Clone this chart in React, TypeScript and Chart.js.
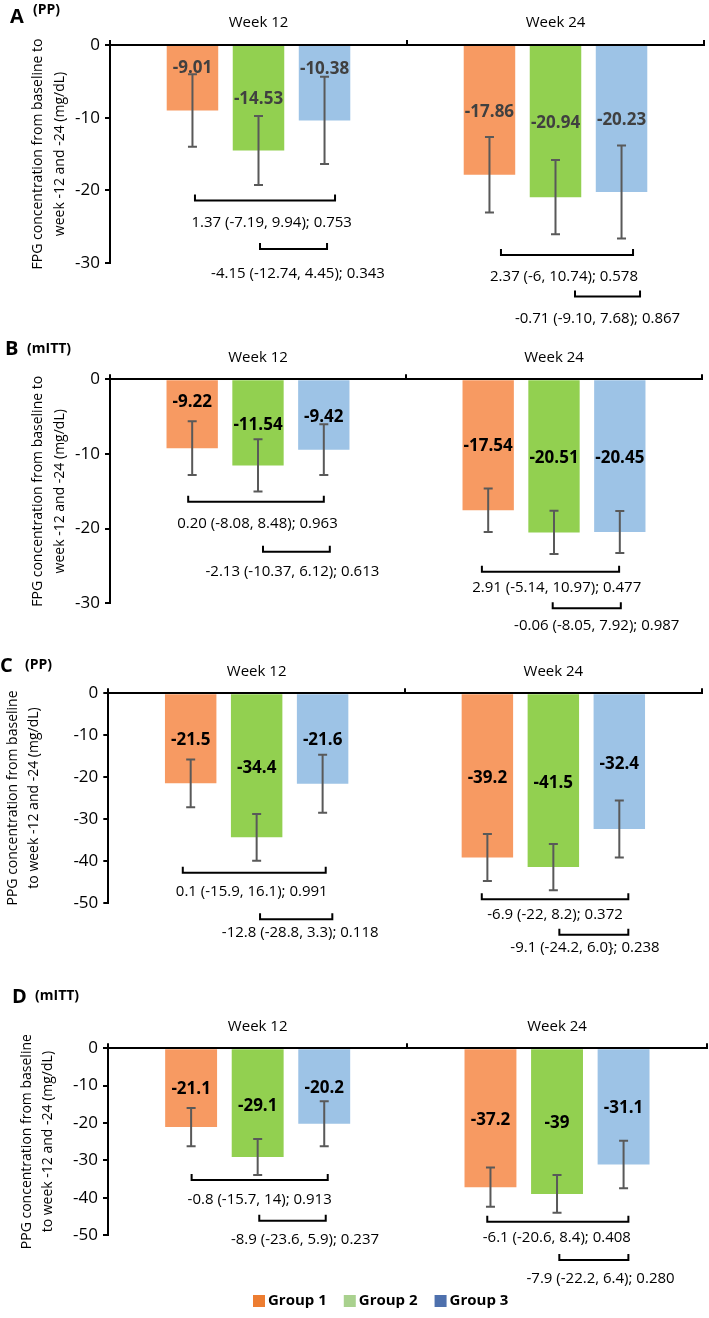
import React, { useEffect, useRef } from 'react';
import { Chart, registerables } from 'chart.js';
Chart.register(...registerables);

const FONT = "'Open Sans', 'DejaVu Sans', sans-serif";

// ---------- shared ----------
const categories = ['Week 12', 'Week 24'];
const groups = ['Group 1', 'Group 2', 'Group 3'];
const barColors = ['#F79A62', '#92D050', '#9DC3E6'];
const legendColors = ['#ED7D31', '#A9D18E', '#4E70AD'];

// ---------- Panel A: FPG, PP ----------
const aGroup1 = [-9.01, -17.86];
const aGroup2 = [-14.53, -20.94];
const aGroup3 = [-10.38, -20.23];
const aErr1 = [5.0, 5.2];
const aErr2 = [4.75, 5.1];
const aErr3 = [6.0, 6.4];
const aComparisons = [
  '1.37 (-7.19, 9.94); 0.753',
  '-4.15 (-12.74, 4.45); 0.343',
  '2.37 (-6, 10.74); 0.578',
  '-0.71 (-9.10, 7.68); 0.867',
];

// ---------- Panel B: FPG, mITT ----------
const bGroup1 = [-9.22, -17.54];
const bGroup2 = [-11.54, -20.51];
const bGroup3 = [-9.42, -20.45];
const bErr1 = [3.6, 2.9];
const bErr2 = [3.5, 2.9];
const bErr3 = [3.4, 2.8];
const bComparisons = [
  '0.20 (-8.08, 8.48); 0.963',
  '-2.13 (-10.37, 6.12); 0.613',
  '2.91 (-5.14, 10.97); 0.477',
  '-0.06 (-8.05, 7.92); 0.987',
];

// ---------- Panel C: PPG, PP ----------
const cGroup1 = [-21.5, -39.2];
const cGroup2 = [-34.4, -41.5];
const cGroup3 = [-21.6, -32.4];
const cErr1 = [5.7, 5.6];
const cErr2 = [5.6, 5.5];
const cErr3 = [6.9, 6.8];
const cComparisons = [
  '0.1 (-15.9, 16.1); 0.991',
  '-12.8 (-28.8, 3.3); 0.118',
  '-6.9 (-22, 8.2); 0.372',
  '-9.1 (-24.2, 6.0}; 0.238',
];

// ---------- Panel D: PPG, mITT ----------
const dGroup1 = [-21.1, -37.2];
const dGroup2 = [-29.1, -39];
const dGroup3 = [-20.2, -31.1];
const dErr1 = [5.1, 5.25];
const dErr2 = [4.8, 5.05];
const dErr3 = [6.05, 6.35];
const dComparisons = [
  '-0.8 (-15.7, 14); 0.913',
  '-8.9 (-23.6, 5.9); 0.237',
  '-6.1 (-20.6, 8.4); 0.408',
  '-7.9 (-22.2, 6.4); 0.280',
];

const fpgTitle = ['FPG concentration from baseline to', 'week -12 and -24 (mg/dL)'];
const ppgTitle = ['PPG concentration from baseline', 'to week -12 and -24 (mg/dL)'];

// ---------- layout (positions, not data) ----------
const panels = [
  {
    key: 'A', letter: 'A', sub: '(PP)', top: 0, height: 330, min: -30,
    xAxisH: 45, yAxisW: 110, padRight: 5, padBottom: 67, titlePad: 27.5, titleLH: 1.55,
    letterPos: [10, 23], subPos: [33, 13.5], labelColor: '#404040',
    values: [aGroup1, aGroup2, aGroup3], errors: [aErr1, aErr2, aErr3], texts: aComparisons, title: fpgTitle,
    labelY: [[-3.2, -9.3], [-7.5, -10.8], [-3.3, -10.3]],
    brackets: [
      { cat: 0, from: 0, to: 2, dx1: 2.5, dx2: 10.5, y: -21.4, ty: -24.5, tdx: 6.7 },
      { cat: 0, from: 1, to: 2, dx1: 1.5, dx2: 2.5, y: -28.06, ty: -31.5, tdx: 4.5 },
      { cat: 1, from: 0, to: 2, dx1: 11.5, dx2: 11.5, y: -28.9, ty: -31.9, tdx: -3 },
      { cat: 1, from: 1, to: 2, dx1: 19.5, dx2: 18.5, y: -34.6, ty: -37.7, tdx: -10 },
    ],
  },
  {
    key: 'B', letter: 'B', sub: '(mITT)', top: 330, height: 310, min: -30,
    xAxisH: 49.3, yAxisW: 110, padRight: 7, padBottom: 36.7, titlePad: 27, titleLH: 1.55,
    letterPos: [5, 25], subPos: [27, 22.5], labelColor: '#000',
    values: [bGroup1, bGroup2, bGroup3], errors: [bErr1, bErr2, bErr3], texts: bComparisons, title: fpgTitle,
    labelY: [[-3.1, -9.0], [-6.1, -10.6], [-5.1, -10.5]],
    brackets: [
      { cat: 0, from: 0, to: 2, dx1: -4, dx2: 0, y: -16.39, ty: -19.28, tdx: 1.5 },
      { cat: 0, from: 1, to: 2, dx1: 5, dx2: 6, y: -23.08, ty: -25.76, tdx: -4 },
      { cat: 1, from: 0, to: 2, dx1: -6.3, dx2: -0.7, y: -25.76, ty: -27.98, tdx: 6.2 },
      { cat: 1, from: 1, to: 2, dx1: -1.3, dx2: 1, y: -30.66, ty: -33.03, tdx: 10 },
    ],
  },
  {
    key: 'C', letter: 'C', sub: '(PP)', top: 640, height: 320, min: -50,
    xAxisH: 53.3, yAxisW: 108.3, padRight: 7.3, padBottom: 57.3, titlePad: 2.8, titleLH: 1.5,
    letterPos: [0, 32], subPos: [25, 28.5], labelColor: '#000',
    values: [cGroup1, cGroup2, cGroup3], errors: [cErr1, cErr2, cErr3], texts: cComparisons, title: ppgTitle,
    labelY: [[-11.3, -20.3], [-17.9, -21.5], [-11.3, -16.9]],
    brackets: [
      { cat: 0, from: 0, to: 2, dx1: -7.9, dx2: 3.1, y: -42.82, ty: -47.49, tdx: -2.5 },
      { cat: 0, from: 1, to: 2, dx1: 3.4, dx2: 9.7, y: -53.94, ty: -57.28, tdx: 4 },
      { cat: 1, from: 0, to: 2, dx1: -5.6, dx2: 9, y: -49.16, ty: -52.9, tdx: 0 },
      { cat: 1, from: 1, to: 2, dx1: 6, dx2: 9, y: -57.68, ty: -60.86, tdx: -8.8 },
    ],
  },
  {
    key: 'D', letter: 'D', sub: '(mITT)', top: 960, height: 358, min: -50,
    xAxisH: 88.3, yAxisW: 108, padRight: 2.3, padBottom: 83, titlePad: 16.5, titleLH: 1.5,
    letterPos: [12, 43], subPos: [35, 40], labelColor: '#000',
    values: [dGroup1, dGroup2, dGroup3], errors: [dErr1, dErr2, dErr3], texts: dComparisons, title: ppgTitle,
    labelY: [[-11.0, -19.2], [-15.4, -20.1], [-10.7, -16.1]],
    brackets: [
      { cat: 0, from: 0, to: 2, dx1: 0.5, dx2: 3.5, y: -35.28, ty: -40.64, tdx: 0 },
      { cat: 0, from: 1, to: 2, dx1: 1.6, dx2: 1.5, y: -46.18, ty: -51.35, tdx: 12.5 },
      { cat: 1, from: 0, to: 2, dx1: -3.2, dx2: 4.8, y: -46.45, ty: -50.63, tdx: -1 },
      { cat: 1, from: 1, to: 2, dx1: 2.3, dx2: 4.8, y: -56.71, ty: -61.62, tdx: 6.7 },
    ],
    legend: { y: 341, startX: 253, box: 12, gap: 3, spacing: 17 },
  },
];

function makePlugin(p: any) {
  return {
    id: 'annot' + p.key,
    afterDraw(chart: any) {
      const ctx = chart.ctx;
      const ys = chart.scales.y;
      ctx.save();

      // value labels
      ctx.font = `bold 17px ${FONT}`;
      ctx.textAlign = 'center';
      ctx.textBaseline = 'middle';
      ctx.fillStyle = p.labelColor;
      p.values.forEach((vals: number[], g: number) => {
        const meta = chart.getDatasetMeta(g);
        vals.forEach((v: number, c: number) => {
          const el = meta.data[c];
          ctx.fillText(String(v), el.x, ys.getPixelForValue(p.labelY[g][c]));
        });
      });

      // error bars
      ctx.strokeStyle = '#595959';
      ctx.lineWidth = 2;
      p.values.forEach((vals: number[], g: number) => {
        const meta = chart.getDatasetMeta(g);
        vals.forEach((v: number, c: number) => {
          const el = meta.data[c];
          const e = p.errors[g][c];
          const yt = ys.getPixelForValue(v + e);
          const yb = ys.getPixelForValue(v - e);
          ctx.beginPath();
          ctx.moveTo(el.x, yt); ctx.lineTo(el.x, yb);
          ctx.moveTo(el.x - 4.5, yt); ctx.lineTo(el.x + 4.5, yt);
          ctx.moveTo(el.x - 4.5, yb); ctx.lineTo(el.x + 4.5, yb);
          ctx.stroke();
        });
      });

      // comparison brackets
      ctx.strokeStyle = '#000';
      ctx.lineWidth = 2;
      ctx.fillStyle = '#000';
      ctx.font = `15px ${FONT}`;
      p.brackets.forEach((b: any, i: number) => {
        const x1 = chart.getDatasetMeta(b.from).data[b.cat].x + b.dx1;
        const x2 = chart.getDatasetMeta(b.to).data[b.cat].x + b.dx2;
        const y = ys.getPixelForValue(b.y);
        ctx.beginPath();
        ctx.moveTo(x1, y - 6); ctx.lineTo(x1, y); ctx.lineTo(x2, y); ctx.lineTo(x2, y - 6);
        ctx.stroke();
        ctx.fillText(p.texts[i], (x1 + x2) / 2 + b.tdx, ys.getPixelForValue(b.ty));
      });

      // panel letter
      ctx.textAlign = 'left';
      ctx.textBaseline = 'alphabetic';
      ctx.font = `bold 20px ${FONT}`;
      ctx.fillText(p.letter, p.letterPos[0], p.letterPos[1]);
      ctx.font = `bold 14px ${FONT}`;
      ctx.fillText(p.sub, p.subPos[0], p.subPos[1]);

      // legend
      if (p.legend) {
        const L = p.legend;
        let x = L.startX;
        ctx.font = `bold 15px ${FONT}`;
        ctx.textBaseline = 'middle';
        groups.forEach((g, i) => {
          ctx.fillStyle = legendColors[i];
          ctx.fillRect(x, L.y - L.box / 2, L.box, L.box);
          x += L.box + L.gap;
          ctx.fillStyle = '#000';
          ctx.fillText(g, x, L.y);
          x += ctx.measureText(g).width + L.spacing;
        });
      }
      ctx.restore();
    },
  };
}

function Panel({ p }: { p: any }) {
  const ref = useRef<HTMLCanvasElement | null>(null);
  useEffect(() => {
    const chart = new Chart(ref.current as HTMLCanvasElement, {
      type: 'bar',
      data: {
        labels: categories,
        datasets: groups.map((g, i) => ({
          label: g,
          data: p.values[i],
          backgroundColor: barColors[i],
          borderWidth: 0,
          categoryPercentage: 0.667,
          barPercentage: 0.78,
        })),
      },
      options: {
        responsive: false,
        animation: false,
        layout: { padding: { left: 0, top: 0, right: p.padRight, bottom: p.padBottom } },
        plugins: { legend: { display: false }, tooltip: { enabled: false } },
        scales: {
          x: {
            position: 'top',
            grid: { offset: true, drawOnChartArea: false, drawTicks: true, tickLength: 5, color: '#000', lineWidth: 2 },
            border: { display: true, color: '#000', width: 2 },
            ticks: { color: '#000', font: { family: FONT, size: 15 }, padding: 8 },
            afterFit: (s: any) => { s.height = p.xAxisH; },
          },
          y: {
            min: p.min,
            max: 0,
            ticks: { stepSize: 10, color: '#000', font: { family: FONT, size: 17 }, padding: 5 },
            grid: { drawOnChartArea: false, tickLength: 5, color: '#000', lineWidth: 2 },
            border: { display: true, color: '#000', width: 2 },
            title: {
              display: true,
              text: p.title,
              color: '#000',
              font: { family: FONT, size: 14, lineHeight: p.titleLH },
              padding: { top: p.titlePad, bottom: 0 },
            },
            afterFit: (s: any) => { s.width = p.yAxisW; },
          },
        },
      } as any,
      plugins: [makePlugin(p)],
    });
    return () => chart.destroy();
  }, []);
  return (
    <canvas
      ref={ref}
      width={709}
      height={p.height}
      style={{ position: 'absolute', left: 0, top: p.top, width: 709, height: p.height }}
    />
  );
}

export default function App() {
  return (
    <div style={{ position: 'absolute', left: 0, top: 0, width: 709, height: 1318, background: '#fff', overflow: 'hidden' }}>
      {panels.map((p) => (
        <Panel key={p.key} p={p} />
      ))}
    </div>
  );
}
